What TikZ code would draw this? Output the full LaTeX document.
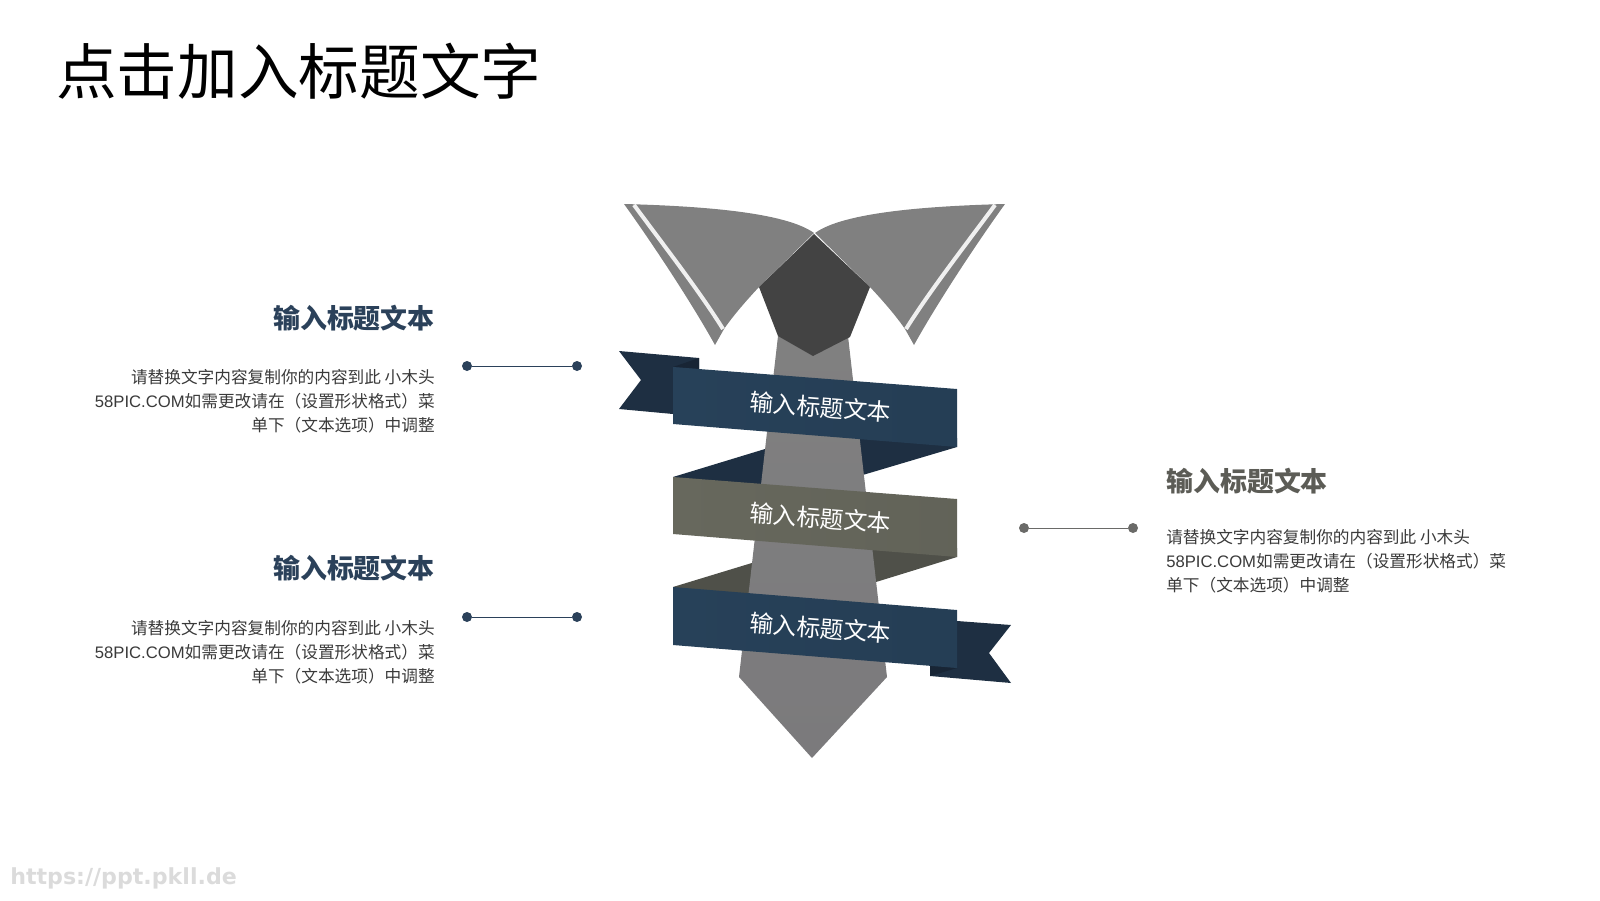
\documentclass[tikz,border=0pt]{standalone}
\usepackage{fontspec}
\setmainfont{Noto Sans CJK SC}
\newfontfamily\latinfont{Liberation Sans}
\newfontfamily\markfont{DejaVu Sans}
\definecolor{navy}{HTML}{274159}
\definecolor{navydark}{HTML}{1E2F42}
\definecolor{olive}{HTML}{67685D}
\definecolor{olivedark}{HTML}{4F5049}
\definecolor{wing}{HTML}{808080}
\definecolor{tieshade}{HTML}{7B7A7C}
\definecolor{knot}{HTML}{434343}
\definecolor{headblue}{HTML}{2B415A}
\definecolor{headgrey}{HTML}{5C5C56}
\definecolor{dotgrey}{HTML}{6A6A68}
\definecolor{bodytext}{HTML}{3A3A3A}
\tikzset{
  ribbonlabel/.style={text=white,rotate=-4.4,font=\fontsize{17.7}{20}\selectfont,inner sep=0pt},
  heading/.style={font=\bfseries\fontsize{20.2}{24}\selectfont,inner sep=0pt},
  bodyblock/.style={font=\fontsize{12.5}{18}\selectfont,text=bodytext,inner sep=0pt},
  navydot/.style={circle,fill=headblue,inner sep=0pt,minimum size=7.5pt},
  greydot/.style={circle,fill=dotgrey,inner sep=0pt,minimum size=7.5pt},
}
\begin{document}
\begin{tikzpicture}[x=0.75pt,y=-0.75pt]
\useasboundingbox (0,0) rectangle (1600,900);
% folds behind
\fill[navydark] (673,477) -- (811,435) -- (811,425) -- (957,438) -- (957,447) -- (819,488) -- (819,495) -- (673,485) -- cycle;
\fill[olivedark] (673,587) -- (811,545) -- (811,535) -- (957,548) -- (957,557) -- (821,599) -- (821,606) -- (673,595) -- cycle;
% tie
\shade[top color=wing,bottom color=tieshade] (778,336) -- (848,336) -- (887,677) -- (812,758) -- (739,677) -- cycle;
% collar wings
\fill[wing] (624,204) .. controls (700,206) and (785,212) .. (814,233) -- (759,287) .. controls (745,302) and (733,316) .. (724,329) -- (715,345) .. controls (690,300) and (650,240) .. (624,204) -- cycle;
\fill[wing] (1005,204) .. controls (929,206) and (844,212) .. (815,233) -- (870,287) .. controls (884,302) and (896,316) .. (905,329) -- (914,345) .. controls (939,300) and (979,240) .. (1005,204) -- cycle;
\draw[line width=3pt,white!94!black] (634,205) .. controls (665,247) and (700,292) .. (723,329);
\draw[line width=3pt,white!94!black] (995,205) .. controls (964,247) and (929,292) .. (906,329);
% knot
\fill[knot] (814,234) -- (870,287) -- (850,337) -- (813,356) -- (778,336) -- (759,287) -- cycle;
% tails
\fill[navydark] (619,351) -- (699,358) -- (699,380) -- (673,414) -- (619,409) -- (641,380) -- cycle;
\fill[navydark!80!black] (673,367) -- (699,358) -- (699,369) -- cycle;
\fill[navydark] (930,640) -- (957,621) -- (1011,625) -- (989,653) -- (1011,683) -- (930,676) -- cycle;
\fill[navydark!80!black] (930,676) -- (930,665) -- (957,668) -- cycle;
% ribbons
\shade[left color=navy,right color=navy!95!black] (673,367) -- (957,389) -- (957,447) -- (673,424) -- cycle;
\shade[left color=olive,right color=olive!95!black] (673,477) -- (957,499) -- (957,557) -- (673,534) -- cycle;
\shade[left color=navy,right color=navy!95!black] (673,587) -- (957,610) -- (957,668) -- (673,645) -- cycle;
\node[ribbonlabel] (r1) at (820.5,407) {输入标题文本};
\node[ribbonlabel] (r2) at (820.5,518) {输入标题文本};
\node[ribbonlabel] (r3) at (820.5,628) {输入标题文本};
% title
\node[anchor=west,inner sep=0pt,font=\fontsize{45.5}{54}\selectfont] (title) at (56,71) {点击加入标题文字};
% left block 1
\node[heading,text=headblue,anchor=east] (h1) at (435,318) {输入标题文本};
\node[bodyblock,anchor=north east,align=right] (b1) at (435,369) {请替换文字内容复制你的内容到此 小木头\\{\latinfont 58PIC.COM}如需更改请在（设置形状格式）菜\\单下（文本选项）中调整};
\node[navydot] (d1a) at (467,366) {};
\node[navydot] (d1b) at (577,366) {};
\draw[headblue,line width=0.65pt] (d1a) -- (d1b);
% left block 2
\node[heading,text=headblue,anchor=east] (h2) at (435,568) {输入标题文本};
\node[bodyblock,anchor=north east,align=right] (b2) at (435,620) {请替换文字内容复制你的内容到此 小木头\\{\latinfont 58PIC.COM}如需更改请在（设置形状格式）菜\\单下（文本选项）中调整};
\node[navydot] (d2a) at (467,617) {};
\node[navydot] (d2b) at (577,617) {};
\draw[headblue,line width=0.65pt] (d2a) -- (d2b);
% right block
\node[heading,text=headgrey,anchor=west] (h3) at (1166,481) {输入标题文本};
\node[bodyblock,anchor=north west,align=left] (b3) at (1166,529) {请替换文字内容复制你的内容到此 小木头\\{\latinfont 58PIC.COM}如需更改请在（设置形状格式）菜\\单下（文本选项）中调整};
\node[greydot] (d3a) at (1024,528) {};
\node[greydot] (d3b) at (1133,528) {};
\draw[dotgrey,line width=0.65pt] (d3a) -- (d3b);
% watermark
\node[anchor=west,inner sep=0pt,text=black!14,font=\markfont\bfseries\fontsize{16.6}{20}\selectfont] (wm) at (10,878) {https://ppt.pkll.de};
\end{tikzpicture}
\end{document}
